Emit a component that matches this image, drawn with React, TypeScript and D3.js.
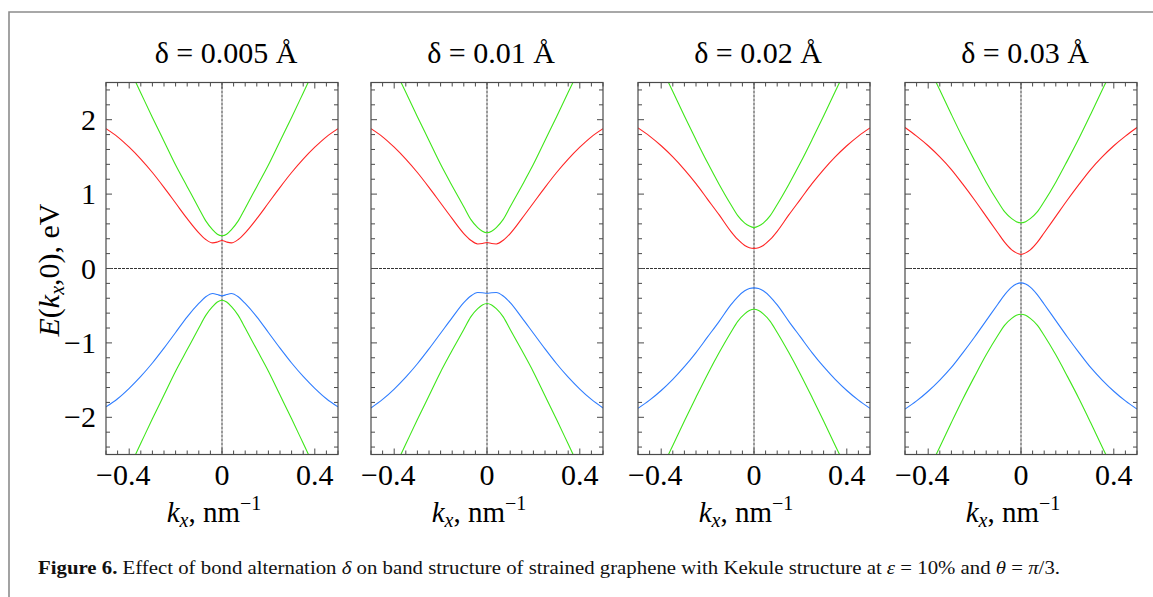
import React from 'react';
import * as d3 from 'd3';

// ---------- data ----------
const kGrid = [-0.5, -0.45, -0.4, -0.35, -0.3, -0.25, -0.2, -0.15, -0.1, -0.07, -0.04, -0.02, 0, 0.02, 0.04, 0.07, 0.1, 0.15, 0.2, 0.25, 0.3, 0.35, 0.4, 0.45, 0.5];

const panelTitles = ['δ = 0.005 Å', 'δ = 0.01 Å', 'δ = 0.02 Å', 'δ = 0.03 Å'];

const redBand1 = [1.88, 1.77, 1.63, 1.47, 1.29, 1.09, 0.88, 0.67, 0.48, 0.39, 0.344, 0.355, 0.376, 0.355, 0.344, 0.39, 0.48, 0.67, 0.88, 1.09, 1.29, 1.47, 1.63, 1.77, 1.88];
const redBand2 = [1.88, 1.77, 1.63, 1.47, 1.29, 1.09, 0.88, 0.67, 0.47, 0.38, 0.33, 0.335, 0.35, 0.335, 0.33, 0.38, 0.47, 0.67, 0.88, 1.09, 1.29, 1.47, 1.63, 1.77, 1.88];
const redBand3 = [1.89, 1.78, 1.65, 1.5, 1.33, 1.14, 0.93, 0.72, 0.5, 0.39, 0.31, 0.28, 0.27, 0.28, 0.31, 0.39, 0.5, 0.72, 0.93, 1.14, 1.33, 1.5, 1.65, 1.78, 1.89];
const redBand4 = [1.895, 1.78, 1.65, 1.5, 1.33, 1.13, 0.92, 0.7, 0.48, 0.35, 0.25, 0.21, 0.19, 0.21, 0.25, 0.35, 0.48, 0.7, 0.92, 1.13, 1.33, 1.5, 1.65, 1.78, 1.895];

const blueBand1 = [-1.86, -1.75, -1.61, -1.45, -1.27, -1.07, -0.86, -0.65, -0.47, -0.38, -0.336, -0.35, -0.368, -0.35, -0.336, -0.38, -0.47, -0.65, -0.86, -1.07, -1.27, -1.45, -1.61, -1.75, -1.86];
const blueBand2 = [-1.874, -1.76, -1.62, -1.46, -1.28, -1.08, -0.87, -0.66, -0.46, -0.37, -0.323, -0.326, -0.332, -0.326, -0.323, -0.37, -0.46, -0.66, -0.87, -1.08, -1.28, -1.46, -1.62, -1.76, -1.874];
const blueBand3 = [-1.88, -1.77, -1.64, -1.49, -1.32, -1.13, -0.92, -0.71, -0.49, -0.38, -0.3, -0.27, -0.26, -0.27, -0.3, -0.38, -0.49, -0.71, -0.92, -1.13, -1.32, -1.49, -1.64, -1.77, -1.88];
const blueBand4 = [-1.89, -1.78, -1.65, -1.5, -1.33, -1.13, -0.92, -0.7, -0.48, -0.35, -0.25, -0.21, -0.193, -0.21, -0.25, -0.35, -0.48, -0.7, -0.92, -1.13, -1.33, -1.5, -1.65, -1.78, -1.89];

const greenUp1 = [3.34, 3.01, 2.69, 2.36, 2.03, 1.71, 1.39, 1.1, 0.81, 0.64, 0.52, 0.46, 0.44, 0.46, 0.52, 0.64, 0.81, 1.1, 1.39, 1.71, 2.03, 2.36, 2.69, 3.01, 3.34];
const greenUp2 = [3.34, 3.02, 2.69, 2.37, 2.04, 1.72, 1.4, 1.11, 0.83, 0.66, 0.55, 0.5, 0.48, 0.5, 0.55, 0.66, 0.83, 1.11, 1.4, 1.72, 2.04, 2.37, 2.69, 3.02, 3.34];
const greenUp3 = [3.35, 3.02, 2.7, 2.38, 2.05, 1.73, 1.42, 1.13, 0.86, 0.71, 0.61, 0.57, 0.55, 0.57, 0.61, 0.71, 0.86, 1.13, 1.42, 1.73, 2.05, 2.38, 2.7, 3.02, 3.35];
const greenUp4 = [3.37, 3.05, 2.72, 2.4, 2.07, 1.75, 1.45, 1.16, 0.9, 0.76, 0.67, 0.63, 0.614, 0.63, 0.67, 0.76, 0.9, 1.16, 1.45, 1.75, 2.07, 2.4, 2.72, 3.05, 3.37];

const greenDown1 = [-3.33, -3.0, -2.68, -2.35, -2.02, -1.7, -1.38, -1.09, -0.8, -0.63, -0.51, -0.45, -0.426, -0.45, -0.51, -0.63, -0.8, -1.09, -1.38, -1.7, -2.02, -2.35, -2.68, -3.0, -3.33];
const greenDown2 = [-3.34, -3.01, -2.69, -2.36, -2.03, -1.71, -1.39, -1.1, -0.82, -0.65, -0.54, -0.49, -0.47, -0.49, -0.54, -0.65, -0.82, -1.1, -1.39, -1.71, -2.03, -2.36, -2.69, -3.01, -3.34];
const greenDown3 = [-3.35, -3.02, -2.7, -2.38, -2.05, -1.73, -1.42, -1.13, -0.86, -0.71, -0.61, -0.565, -0.547, -0.565, -0.61, -0.71, -0.86, -1.13, -1.42, -1.73, -2.05, -2.38, -2.7, -3.02, -3.35];
const greenDown4 = [-3.37, -3.05, -2.72, -2.4, -2.07, -1.75, -1.45, -1.16, -0.9, -0.76, -0.67, -0.63, -0.614, -0.63, -0.67, -0.76, -0.9, -1.16, -1.45, -1.75, -2.07, -2.4, -2.72, -3.05, -3.37];

const xTickLabels = [-0.4, 0, 0.4];
const yTickLabels = [-2, -1, 0, 1, 2];

const panels = [
  { title: panelTitles[0], red: redBand1, blue: blueBand1, gUp: greenUp1, gDown: greenDown1 },
  { title: panelTitles[1], red: redBand2, blue: blueBand2, gUp: greenUp2, gDown: greenDown2 },
  { title: panelTitles[2], red: redBand3, blue: blueBand3, gUp: greenUp3, gDown: greenDown3 },
  { title: panelTitles[3], red: redBand4, blue: blueBand4, gUp: greenUp4, gDown: greenDown4 },
];

// ---------- layout ----------
const W = 1153;
const H = 597;
const panelLefts = [106, 371, 638, 905];
const panelW = 232;
const top = 82.5;
const bottom = 454.5;
const FONT = '"Liberation Serif", "Times New Roman", serif';
const RED = '#ff2424';
const GREEN = '#3fe61a';
const BLUE = '#2f7dff';
const FRAME = '#4a4a4a';

const fmt = (v: number) => (v < 0 ? '\u2212' + Math.abs(v) : String(v));

function Panel({ idx, p }: { idx: number; p: typeof panels[0] }) {
  const left = panelLefts[idx];
  const x = d3.scaleLinear().domain([-0.5, 0.5]).range([left, left + panelW]);
  const y = d3.scaleLinear().domain([-2.5, 2.5]).range([bottom, top]);
  const line = d3
    .line<number>()
    .x((_, i) => x(kGrid[i]))
    .y((d) => y(d))
    .curve(d3.curveMonotoneX);
  const clipId = `clip${idx}`;
  const xMinor = d3.range(-10, 11).map((i) => i * 0.05);
  const yMinor = d3.range(-12, 13).map((i) => i * 0.2);
  const isMajorX = (v: number) => xTickLabels.some((t) => Math.abs(t - v) < 1e-6);
  const isMajorY = (v: number) => Math.abs(v - Math.round(v)) < 1e-6;
  const cx = x(0);
  return (
    <g>
      <defs>
        <clipPath id={clipId}>
          <rect x={left} y={top} width={panelW} height={bottom - top} />
        </clipPath>
      </defs>
      <text x={cx + 4} y={63} textAnchor="middle" fontFamily={FONT} fontSize={30} fill="#000">
        {p.title}
      </text>
      {/* zero lines */}
      <line x1={left} x2={left + panelW} y1={y(0)} y2={y(0)} stroke="#333" strokeWidth={1} strokeDasharray="3,1" />
      <line x1={cx} x2={cx} y1={top} y2={bottom} stroke="#333" strokeWidth={1} strokeDasharray="3,1" />
      {/* curves */}
      <g clipPath={`url(#${clipId})`} fill="none" strokeWidth={1.1}>
        <path d={line(p.gUp) || ''} stroke={GREEN} />
        <path d={line(p.gDown) || ''} stroke={GREEN} />
        <path d={line(p.red) || ''} stroke={RED} />
        <path d={line(p.blue) || ''} stroke={BLUE} />
      </g>
      {/* ticks */}
      <g stroke={FRAME} strokeWidth={1}>
        {xMinor.map((v, i) => {
          const L = isMajorX(v) ? 6 : 4;
          return (
            <g key={'xt' + i}>
              <line x1={x(v)} x2={x(v)} y1={bottom} y2={bottom - L} />
              <line x1={x(v)} x2={x(v)} y1={top} y2={top + L} />
            </g>
          );
        })}
        {yMinor
          .filter((v) => v > -2.5 && v < 2.5)
          .map((v, i) => {
            const L = isMajorY(v) ? 6 : 4;
            return (
              <g key={'yt' + i}>
                <line x1={left} x2={left + L} y1={y(v)} y2={y(v)} />
                <line x1={left + panelW} x2={left + panelW - L} y1={y(v)} y2={y(v)} />
              </g>
            );
          })}
      </g>
      <rect x={left} y={top} width={panelW} height={bottom - top} fill="none" stroke={FRAME} strokeWidth={1.2} />
      {/* x tick labels */}
      {xTickLabels.map((v) => (
        <text key={'xl' + v} x={x(v) - (v < 0 ? 6 : 0)} y={485} textAnchor="middle" fontFamily={FONT} fontSize={30} fill="#000">
          {fmt(v)}
        </text>
      ))}
      {/* y tick labels only on first panel */}
      {idx === 0 &&
        yTickLabels.map((v) => (
          <text key={'yl' + v} x={left - 10} y={y(v) + 10} textAnchor="end" fontFamily={FONT} fontSize={30} fill="#000">
            {fmt(v)}
          </text>
        ))}
      {/* x axis label */}
      <text x={cx - 8} y={522} textAnchor="middle" fontFamily={FONT} fontSize={29} fill="#000">
        <tspan fontStyle="italic">k</tspan>
        <tspan fontStyle="italic" fontSize={20} dy={5}>x</tspan>
        <tspan dy={-5}>, nm</tspan>
        <tspan fontSize={20} dy={-12}>{'\u22121'}</tspan>
      </text>
    </g>
  );
}

export default function App() {
  return (
    <svg width={W} height={H} style={{ position: 'absolute', left: 0, top: 0, background: '#fff' }}>
      <rect x={0} y={0} width={W} height={H} fill="#fff" />
      {/* outer frame */}
      <path d={`M9,${H + 5} L9,12 L${W + 5},12`} fill="none" stroke="#8c8c8c" strokeWidth={1.6} />
      {panels.map((p, i) => (
        <Panel key={i} idx={i} p={p} />
      ))}
      {/* y axis label */}
      <text transform="translate(59,270) rotate(-90)" textAnchor="middle" fontFamily={FONT} fontSize={30} fill="#000">
        <tspan fontStyle="italic">E</tspan>
        <tspan>(</tspan>
        <tspan fontStyle="italic">k</tspan>
        <tspan fontStyle="italic" fontSize={20} dy={5}>x</tspan>
        <tspan dy={-5}>,0), eV</tspan>
      </text>
      {/* caption */}
      <text x={38} y={574} fontFamily={FONT} fontSize={19} fill="#111" textLength={1022} lengthAdjust="spacingAndGlyphs">
        <tspan fontWeight="bold">Figure 6.</tspan>
        <tspan> Effect of bond alternation </tspan>
        <tspan fontStyle="italic">δ</tspan>
        <tspan> on band structure of strained graphene with Kekule structure at </tspan>
        <tspan fontStyle="italic">ε</tspan>
        <tspan>{' =  10% and '}</tspan>
        <tspan fontStyle="italic">θ</tspan>
        <tspan>{' = '}</tspan>
        <tspan fontStyle="italic">π</tspan>
        <tspan>/3.</tspan>
      </text>
    </svg>
  );
}
